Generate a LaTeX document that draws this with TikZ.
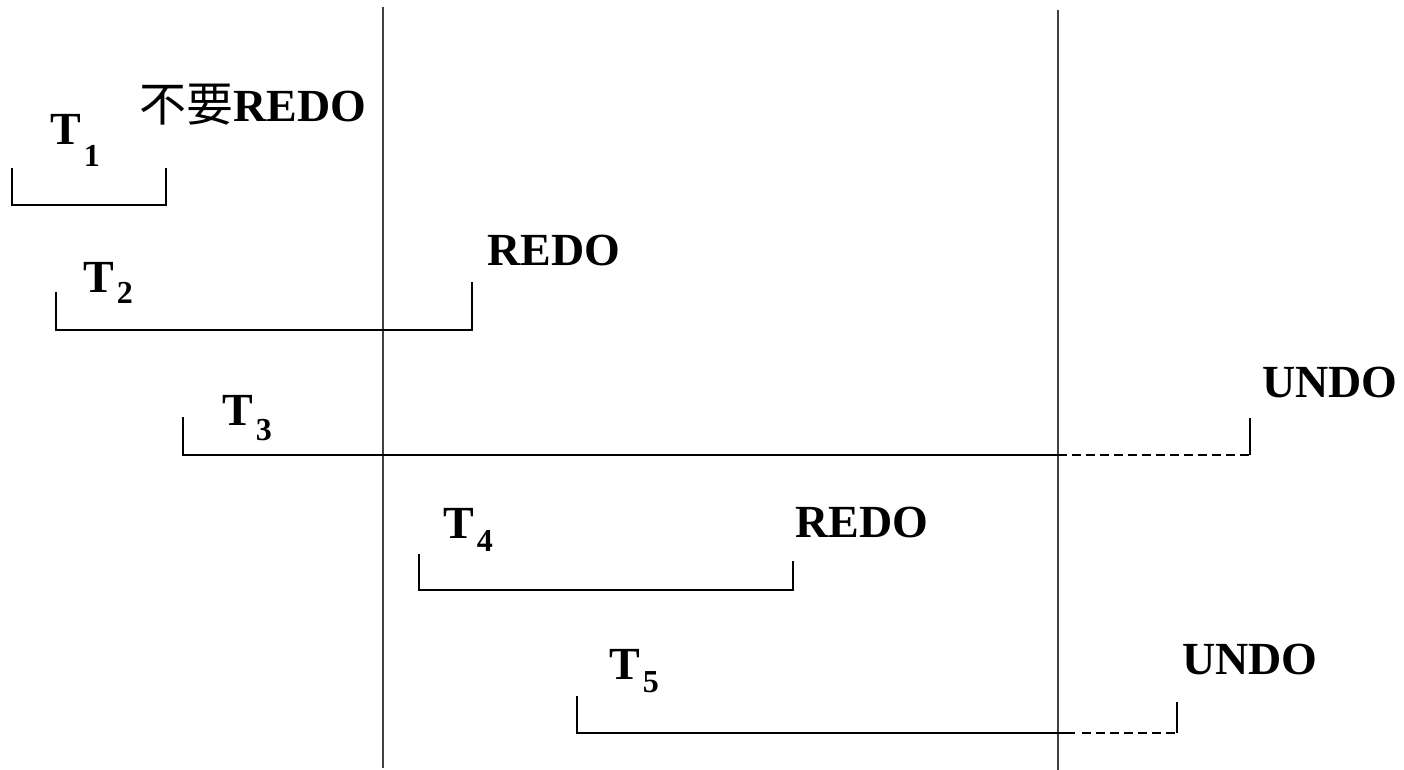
\documentclass[tikz,border=0pt]{standalone}
\usepackage{fontspec}
\setmainfont{Liberation Serif}
\newfontfamily\cjkfont{Noto Sans CJK SC}
\newcommand\Tsubscr[2]{T\kern3pt\raisebox{-#2pt}{\fontsize{32}{32}\selectfont #1}}
\begin{document}
\begin{tikzpicture}[x=1pt,y=-1pt,
  lab/.style={anchor=base west, inner sep=0pt, font=\fontsize{46}{50}\selectfont\bfseries},
  bar/.style={line width=2pt, black},
  vline/.style={line width=2pt, black!75},
  dashbar/.style={line width=1.8pt, black, dash pattern=on 9pt off 5pt}]
\useasboundingbox (0,0) rectangle (1404,770);
% vertical lines
\coordinate (v1a) at (383,7);   \coordinate (v1b) at (383,768);
\coordinate (v2a) at (1058,10); \coordinate (v2b) at (1058,770);
\draw[vline] (v1a) -- (v1b);
\draw[vline] (v2a) -- (v2b);
% labels
\node[lab] (t1) at (50,145) {\Tsubscr{1}{22}};
\node[lab] (n1) at (139,122) {{\mdseries\cjkfont\fontsize{47}{50}\selectfont 不要}REDO};
\node[lab] (t2) at (83,292) {\Tsubscr{2}{11}};
\node[lab] (r2) at (487,265) {REDO};
\node[lab] (t3) at (222,425) {\Tsubscr{3}{15}};
\node[lab] (u3) at (1262,397) {UNDO};
\node[lab] (t4) at (443,538) {\Tsubscr{4}{13}};
\node[lab] (r4) at (795,537) {REDO};
\node[lab] (t5) at (609,679) {\Tsubscr{5}{13}};
\node[lab] (u5) at (1182,674) {UNDO};
% T1
\coordinate (a1) at (12,168); \coordinate (b1) at (12,205);
\coordinate (c1) at (166,205); \coordinate (d1) at (166,168);
\draw[bar] (a1) -- (b1) -- (c1) -- (d1);
% T2
\coordinate (a2) at (56,292); \coordinate (b2) at (56,330);
\coordinate (c2) at (472,330); \coordinate (d2) at (472,282);
\draw[bar] (a2) -- (b2) -- (c2) -- (d2);
% T3
\coordinate (a3) at (183,417); \coordinate (b3) at (183,455);
\coordinate (m3) at (1058,455);
\coordinate (c3) at (1250,455); \coordinate (d3) at (1250,418);
\draw[bar] (a3) -- (b3) -- (m3);
\draw[dashbar] (m3) -- (c3);
\draw[bar] (c3) -- (d3);
% T4
\coordinate (a4) at (419,554); \coordinate (b4) at (419,590);
\coordinate (c4) at (793,590); \coordinate (d4) at (793,561);
\draw[bar] (a4) -- (b4) -- (c4) -- (d4);
% T5
\coordinate (a5) at (577,696); \coordinate (b5) at (577,733);
\coordinate (m5) at (1075,733);
\coordinate (c5) at (1177,733); \coordinate (d5) at (1177,702);
\draw[bar] (a5) -- (b5) -- (m5);
\draw[dashbar] ([xshift=7pt]m5) -- (c5);
\draw[bar] (c5) -- (d5);
\end{tikzpicture}
\end{document}
